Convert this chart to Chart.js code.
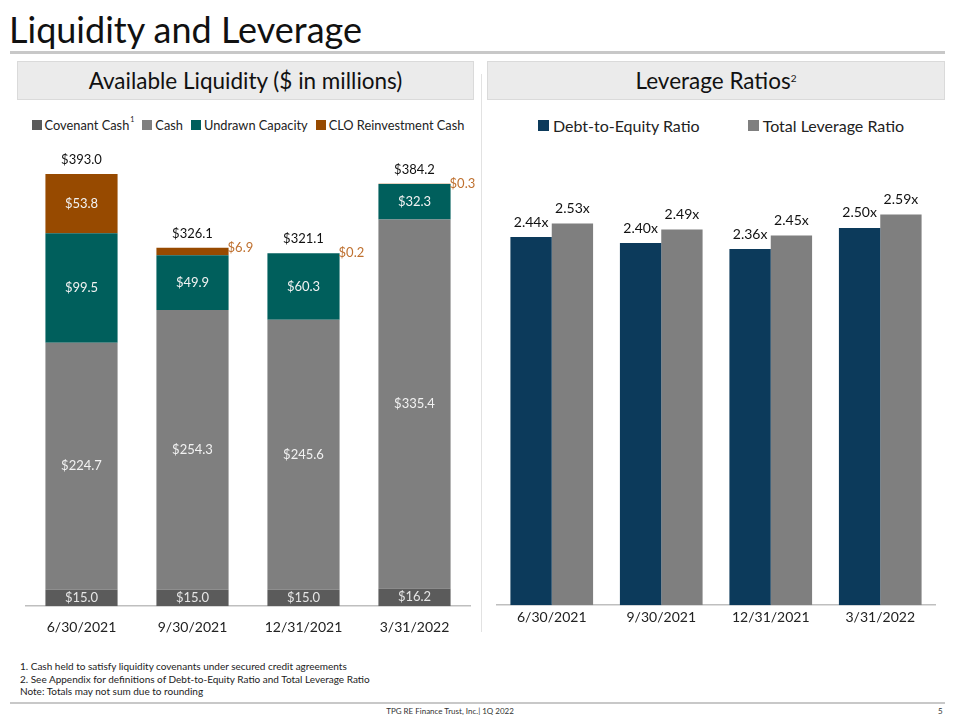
<!DOCTYPE html>
<html>
<head>
<meta charset="utf-8">
<script src="https://cdn.jsdelivr.net/npm/chart.js@4"></script>
<style>
  html,body{margin:0;padding:0;background:#fff;}
  body{width:960px;height:720px;position:relative;overflow:hidden;font-family:Lato,"Open Sans",sans-serif;color:#111;}
  .abs{position:absolute;}
  #title{left:9px;top:8px;font-size:36px;line-height:42px;color:#111;}
  #topline{left:10px;top:51px;width:935px;height:3px;background:#c8c8c8;}
  .hdr{top:61px;height:37px;background:#ebebeb;border:1px solid #dadada;text-align:center;font-size:22.5px;line-height:37px;color:#111;}
  #hdrL{left:17px;width:455px;}
  #hdrR{left:487px;width:456px;}
  .hdr sup{font-size:10px;vertical-align:baseline;position:relative;top:-7px;line-height:0;}
  #divider{left:481px;top:74px;width:1px;height:558px;background:#e2e2e2;}
  #cL{left:20px;top:105px;}
  #cR{left:490px;top:105px;}
  .legend{display:flex;justify-content:center;align-items:center;color:#222;white-space:nowrap;}
  .legend .item{display:flex;align-items:center;}
  .legend .sw{display:inline-block;}
  #legL{left:25px;width:446px;top:116px;height:18px;font-size:12.8px;}
  #legL .item{margin:0 4px;}
  #legL .sw{width:10px;height:10px;margin-right:3px;}
  #legL sup{font-size:7px;vertical-align:baseline;position:relative;top:-6px;line-height:0;margin-left:1px;}
  #legR{left:497px;width:448px;top:114px;height:22px;font-size:16px;}
  #legR .item{margin:0 24px;}
  #legR .sw{width:11px;height:11px;margin-right:4px;}
  #notes{left:20px;top:660px;font-size:10px;line-height:12.5px;color:#222;}
  #botline{left:10px;top:702px;width:935px;height:2px;background:#c8c8c8;}
  #footer{left:0;width:900px;top:705px;text-align:center;font-size:8px;line-height:12px;color:#333;}
  #page{left:938px;top:705px;font-size:8px;line-height:12px;color:#333;}
</style>
</head>
<body>
<div id="title" class="abs">Liquidity and Leverage</div>
<div id="topline" class="abs"></div>
<div id="hdrL" class="abs hdr">Available Liquidity ($ in millions)</div>
<div id="hdrR" class="abs hdr">Leverage Ratios<sup>2</sup></div>
<div id="divider" class="abs"></div>
<div id="legL" class="abs legend"></div>
<div id="legR" class="abs legend"></div>
<canvas id="cL" class="abs" width="470" height="544"></canvas>
<canvas id="cR" class="abs" width="452" height="525"></canvas>
<div id="notes" class="abs">1. Cash held to satisfy liquidity covenants under secured credit agreements<br>2. See Appendix for definitions of Debt-to-Equity Ratio and Total Leverage Ratio<br>Note: Totals may not sum due to rounding</div>
<div id="botline" class="abs"></div>
<div id="footer" class="abs">TPG RE Finance Trust, Inc.| 1Q 2022</div>
<div id="page" class="abs">5</div>
<script>
// ---------- data ----------
const periods = ["6/30/2021", "9/30/2021", "12/31/2021", "3/31/2022"];
const covenantCash = [15.0, 15.0, 15.0, 16.2];
const cash = [224.7, 254.3, 245.6, 335.4];
const undrawnCapacity = [99.5, 49.9, 60.3, 32.3];
const cloReinvestmentCash = [53.8, 6.9, 0.2, 0.3];
const liquidityTotals = [393.0, 326.1, 321.1, 384.2];
const debtToEquity = [2.44, 2.40, 2.36, 2.50];
const totalLeverage = [2.53, 2.49, 2.45, 2.59];

const FONT = "Lato, 'Open Sans', sans-serif";
Chart.defaults.font.family = FONT;
Chart.defaults.color = "#222";
Chart.defaults.animation = false;

// HTML legend built from chart datasets
function buildLegend(chart, el, supFirst) {
  chart.data.datasets.forEach((ds, i) => {
    const item = document.createElement("span");
    item.className = "item";
    const sw = document.createElement("span");
    sw.className = "sw";
    sw.style.background = ds.backgroundColor;
    const tx = document.createElement("span");
    tx.textContent = ds.label;
    item.appendChild(sw);
    item.appendChild(tx);
    if (supFirst && i === 0) {
      const s = document.createElement("sup");
      s.textContent = "1";
      item.appendChild(s);
    }
    el.appendChild(item);
  });
}

// ---------- left chart ----------
const liqLabels = {
  id: "liqLabels",
  afterDatasetsDraw(chart) {
    const ctx = chart.ctx;
    ctx.save();
    ctx.font = "13px " + FONT;
    ctx.textBaseline = "middle";
    chart.data.datasets.forEach((ds, di) => {
      const meta = chart.getDatasetMeta(di);
      meta.data.forEach((bar, i) => {
        const v = ds.data[i];
        const txt = "$" + v.toFixed(1);
        const top = Math.min(bar.y, bar.base), bot = Math.max(bar.y, bar.base);
        if (bot - top >= 12) {
          ctx.textAlign = "center";
          ctx.fillStyle = di === 0 ? "#e6e6e6" : "#f2f2f2";
          ctx.fillText(txt, bar.x, (top + bot) / 2);
        } else {
          ctx.textAlign = "left";
          ctx.fillStyle = "#bf7130";
          ctx.fillText(txt, bar.x + bar.width / 2 - 1, top);
        }
      });
    });
    const lastMeta = chart.getDatasetMeta(chart.data.datasets.length - 1);
    ctx.fillStyle = "#111";
    ctx.textAlign = "center";
    lastMeta.data.forEach((bar, i) => {
      const top = Math.min(bar.y, bar.base);
      ctx.fillText("$" + liquidityTotals[i].toFixed(1), bar.x, top - 14);
    });
    ctx.restore();
  }
};

const chartL = new Chart(document.getElementById("cL"), {
  type: "bar",
  data: {
    labels: periods,
    datasets: [
      { label: "Covenant Cash", data: covenantCash, backgroundColor: "#5b5b5b" },
      { label: "Cash", data: cash, backgroundColor: "#7f7f7f" },
      { label: "Undrawn Capacity", data: undrawnCapacity, backgroundColor: "#005f5c" },
      { label: "CLO Reinvestment Cash", data: cloReinvestmentCash, backgroundColor: "#974a00" }
    ]
  },
  options: {
    responsive: false,
    layout: { padding: { left: 6, right: 20, top: 35, bottom: 0 } },
    datasets: { bar: { categoryPercentage: 1.0, barPercentage: 0.65, borderWidth: 0 } },
    plugins: { legend: { display: false }, tooltip: { enabled: false } },
    scales: {
      x: {
        stacked: true,
        grid: { display: false, drawTicks: false },
        border: { display: true, color: "#bfbfbf", width: 1.5 },
        ticks: { font: { size: 14 }, color: "#222", padding: 13 }
      },
      y: { stacked: true, display: false, min: 0, max: 424 }
    }
  },
  plugins: [liqLabels]
});
buildLegend(chartL, document.getElementById("legL"), true);

// ---------- right chart ----------
const levLabels = {
  id: "levLabels",
  afterDatasetsDraw(chart) {
    const ctx = chart.ctx;
    ctx.save();
    ctx.font = "14px " + FONT;
    ctx.textBaseline = "middle";
    ctx.textAlign = "center";
    ctx.fillStyle = "#111";
    chart.data.datasets.forEach((ds, di) => {
      chart.getDatasetMeta(di).data.forEach((bar, i) => {
        ctx.fillText(ds.data[i].toFixed(2) + "x", bar.x, bar.y - 15);
      });
    });
    ctx.restore();
  }
};

const chartR = new Chart(document.getElementById("cR"), {
  type: "bar",
  data: {
    labels: periods,
    datasets: [
      { label: "Debt-to-Equity Ratio", data: debtToEquity, backgroundColor: "#0c3a5b" },
      { label: "Total Leverage Ratio", data: totalLeverage, backgroundColor: "#7f7f7f" }
    ]
  },
  options: {
    responsive: false,
    layout: { padding: { left: 7, right: 7, top: 35, bottom: 0 } },
    datasets: { bar: { categoryPercentage: 0.755, barPercentage: 1.0, borderWidth: 0 } },
    plugins: { legend: { display: false }, tooltip: { enabled: false } },
    scales: {
      x: {
        grid: { display: false, drawTicks: false },
        border: { display: true, color: "#bfbfbf", width: 1.5 },
        ticks: { font: { size: 14 }, color: "#222", padding: 4 }
      },
      y: { display: false, min: 0, max: 3.083 }
    }
  },
  plugins: [levLabels]
});
buildLegend(chartR, document.getElementById("legR"), false);
</script>
</body>
</html>
